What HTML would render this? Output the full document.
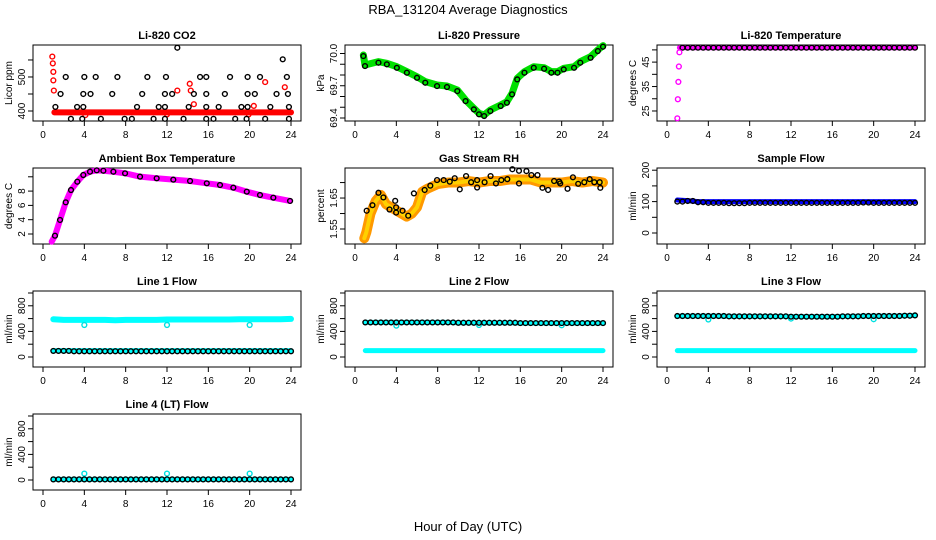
<!DOCTYPE html>
<html><head><meta charset="utf-8"><style>
body{margin:0;background:#fff;}
svg{display:block;font-family:"Liberation Sans",sans-serif;}
</style></head><body>
<svg id="chart" width="936" height="540" viewBox="0 0 936 540" xmlns="http://www.w3.org/2000/svg">
<rect width="936" height="540" fill="#fff"/>
<text x="468" y="14" text-anchor="middle" font-size="13">RBA_131204  Average Diagnostics</text>
<text x="468" y="531" text-anchor="middle" font-size="13">Hour of Day (UTC)</text>
</svg>
<script>
// ---------- data ----------
const xTicks = [0,4,8,12,16,20,24];
// CO2
const co2BandH = [1.1,24];
const co2BandV = [396,396];
const co2RedH = [0.9,0.95,1.0,1.0,1.05,13.0,14.2,14.3,14.6,21.5,23.4,20.4,4.1,12.0,19.9];
const co2RedV = [560,540,515,490,460,460,480,460,420,485,470,415,388,390,390];
const co2BlkH = [2.2,4.0,5.1,7.2,10.1,11.9,15.2,15.8,18.1,19.8,21.0,23.6,
 1.7,3.9,4.6,6.7,9.6,11.8,12.5,14.6,15.8,17.6,19.8,20.5,22.6,23.7,
 1.2,3.3,3.9,9.1,11.2,11.8,14.1,15.8,17.0,19.2,19.8,22.0,23.8,
 2.7,3.8,5.6,7.9,8.6,10.7,11.8,13.6,15.8,16.5,18.6,19.7,21.5,23.8,13.0,23.2];
const co2BlkV = [500,500,500,500,500,500,500,500,500,500,500,500,
 450,450,450,450,450,450,450,450,450,450,450,450,450,450,
 412,412,412,412,412,412,412,412,412,412,412,412,412,
 377,377,377,377,377,377,377,377,377,377,377,377,377,377,586,552];
// Pressure
const presH = [0.81,0.97,2.27,3.08,4.05,5.02,6.0,6.8,7.94,8.9,9.9,10.7,11.5,12.0,12.5,13.1,14.1,14.7,15.2,15.7,16.4,17.3,18.3,19.0,19.6,20.2,21.2,21.8,22.8,23.5,24.0];
const presV = [69.986,69.893,69.924,69.909,69.877,69.831,69.784,69.738,69.707,69.698,69.660,69.567,69.490,69.444,69.428,69.474,69.521,69.552,69.630,69.769,69.831,69.877,69.868,69.831,69.831,69.862,69.877,69.924,69.970,70.033,70.073];
// Li-820 temperature
const tempBandH = [1.2,24];
const tempBandV = [50.9,50.9];
const tempOutH = [1.0,1.05,1.1,1.15,1.2];
const tempOutV = [22,29.8,36.9,43.2,49.0];
// Ambient
const ambH = [0.84,1.16,1.65,2.2,2.71,3.32,3.9,4.55,5.2,5.84,6.81,7.94,9.39,11.0,12.61,14.23,15.85,17.13,18.42,19.72,21.0,22.29,23.91];
const ambV = [0.92,1.76,3.96,6.43,8.15,9.31,10.25,10.71,10.90,10.85,10.71,10.49,10.02,9.79,9.60,9.41,9.09,8.85,8.48,7.92,7.45,7.08,6.62];
// RH
const rhBandH = [0.9,1.1,1.5,2.0,2.5,3,3.5,4,4.5,5,5.5,6,6.5,7,8,9,10,11,12,13,14,15,16,17,18,19,20,21,22,23,24];
const rhBandV = [1.52,1.54,1.60,1.64,1.66,1.63,1.62,1.61,1.60,1.59,1.60,1.62,1.67,1.68,1.695,1.70,1.70,1.705,1.70,1.705,1.705,1.71,1.71,1.71,1.70,1.70,1.70,1.705,1.70,1.705,1.70];
const rhBlkH = [1.13,1.69,2.27,2.75,3.34,3.89,3.98,3.98,4.6,5.15,5.7,6.74,7.29,7.94,8.58,9.17,9.65,10.14,10.75,11.24,11.82,11.82,12.54,13.12,13.64,14.16,14.74,15.23,15.87,15.87,16.59,17.07,17.66,18.14,18.69,19.27,19.76,19.86,20.57,21.09,21.60,22.19,22.71,23.16,23.68,23.74];
const rhBlkV = [1.609,1.627,1.667,1.652,1.613,1.641,1.620,1.603,1.609,1.593,1.665,1.676,1.690,1.708,1.708,1.703,1.714,1.678,1.721,1.701,1.708,1.684,1.701,1.721,1.697,1.708,1.711,1.743,1.738,1.697,1.737,1.724,1.724,1.683,1.676,1.705,1.703,1.697,1.680,1.717,1.696,1.701,1.711,1.701,1.701,1.683];
// Flows (hourly values, hours 1..24)
const hours = [1,2,3,4,5,6,7,8,9,10,11,12,13,14,15,16,17,18,19,20,21,22,23,24];
const sampleBand = [105,103,100,100,100,100,100,100,100,100,100,100,100,100,100,100,100,100,100,100,100,100,100,100];
const sampleBlk  = [100,102,98,96,96,95,95,96,96,96,96,96,96,96,96,96,96,96,97,96,96,96,96,96];
const l1Hi  = [590,580,580,580,580,580,575,580,580,580,580,585,585,585,585,585,585,585,590,590,590,590,590,595];
const l1Lo  = [100,100,100,100,100,100,100,100,100,100,100,100,100,100,100,100,100,100,100,100,100,100,100,100];
const l1Blk = [95,95,90,90,90,90,90,90,90,90,90,90,90,90,90,90,90,90,90,90,90,90,90,90];
const l2Hi  = [540,540,540,540,540,540,540,540,540,535,535,535,535,535,535,530,530,530,530,530,530,530,530,530];
const l2Lo  = [100,100,100,100,100,100,100,100,100,100,100,100,100,100,100,100,100,100,100,100,100,100,100,100];
const l3Hi  = [640,640,640,640,640,635,635,635,635,635,635,630,630,630,630,630,635,635,640,640,640,640,645,650];
const l3Lo  = [100,100,100,100,100,100,100,100,100,100,100,100,100,100,100,100,100,100,100,100,100,100,100,100];
const l4Val = [10,10,10,10,10,10,10,10,10,10,10,10,10,10,10,10,10,10,10,10,10,10,10,10];
const dipH = [4,12,20];
const l1Dip = [500,500,500];
const l2Dip = [490,500,495];
const l3Dip = [585,600,590];
const l4Dip = [100,100,100];

// ---------- drawing ----------
const NS = "http://www.w3.org/2000/svg";
const svg = document.getElementById('chart');
function el(tag, attrs, parent){
  const e = document.createElementNS(NS, tag);
  for (const k in attrs) e.setAttribute(k, attrs[k]);
  (parent||svg).appendChild(e);
  return e;
}
function makePanel(col,row,title,ylab,ymin,ymax,yt,yl,name){
  const x0 = 33+312*col, y0 = 45+123*row, w = 268, h = 76;
  const g = el('g',{});
  
  
  const X = v => x0+10+v*(248/24);
  const Y = v => y0+h-(v-ymin)/(ymax-ymin)*h;
  const box = el('rect',{x:x0,y:y0,width:w,height:h,fill:'none',stroke:'#000','stroke-width':1},g);
  
  
  const t = el('text',{x:x0+w/2,y:y0-6,'text-anchor':'middle','font-size':11,'font-weight':'bold'},g);
  t.textContent = title;
  
  
  const yt2 = el('text',{transform:`translate(${x0-21},${y0+h/2}) rotate(-90)`,'text-anchor':'middle','font-size':10},g);
  yt2.textContent = ylab;
  
  
  xTicks.forEach(v=>{
    el('line',{x1:X(v),x2:X(v),y1:y0+h,y2:y0+h+5,stroke:'#000'},g);
    const tl = el('text',{x:X(v),y:y0+h+17,'text-anchor':'middle','font-size':10},g);
    tl.textContent = v;
    
    
  });
  yt.forEach((v,i)=>{
    el('line',{x1:x0,x2:x0-5,y1:Y(v),y2:Y(v),stroke:'#000'},g);
    if (yl[i]) {
      const tl = el('text',{transform:`translate(${x0-8},${Y(v)}) rotate(-90)`,'text-anchor':'middle','font-size':10},g);
      tl.textContent = yl[i];
      
      
    }
  });
  return {g,X,Y};
}
function band(p,hs,vs,color,width,name){
  const pts = hs.map((hh,i)=>p.X(hh)+','+p.Y(vs[i])).join(' ');
  const l = el('polyline',{points:pts,fill:'none',stroke:color,'stroke-width':width,'stroke-linejoin':'round','stroke-linecap':'round'},p.g);
  
  
}
function pts(p,hs,vs,color,name,fill){
  hs.forEach((hh,i)=>{
    const c = el('circle',{cx:p.X(hh),cy:p.Y(vs[i]),r:2.4,fill:fill||'none',stroke:color,'stroke-width':1.4},p.g);
    
    
  });
}
function ticksArr(a,b,s){const r=[];for(let v=a;v<=b+1e-9;v+=s)r.push(+v.toFixed(3));return r;}

// CO2
let p = makePanel(0,0,'Li-820 CO2','Licor ppm',370.6,594,[400,450,500,550],['400','','500',''],'co2');
band(p,co2BandH,co2BandV,'#ff0000',6,'co2-band');
pts(p,co2RedH,co2RedV,'#ff0000','co2-red-point');
pts(p,co2BlkH,co2BlkV,'#000','co2-point');
// Pressure
p = makePanel(1,0,'Li-820 Pressure','kPa',69.372,70.079,ticksArr(69.4,70.0,0.1),['69.4','','','69.7','','','70.0'],'pressure');
band(p,presH,presV,'#00e000',7,'pressure-band');
pts(p,presH,presV.map(v=>v-0.01),'#000','pressure-point');
// Temperature
p = makePanel(2,0,'Li-820 Temperature','degrees C',20.9,52,[25,30,35,40,45,50],['25','','35','','45',''],'li820-temp');
band(p,tempBandH,tempBandV,'#ff00ff',5,'temp-band');
pts(p,hours.slice(0).concat(hours.map(v=>v-0.5)).filter(v=>v>=1.2),hours.concat(hours).map(()=>50.9),'#000','temp-point');
pts(p,tempOutH,tempOutV,'#ff00ff','temp-outlier');
// Ambient
p = makePanel(0,1,'Ambient Box Temperature','degrees C',0.6,11.23,[2,4,6,8,10],['2','4','6','8',''],'ambient');
band(p,ambH,ambV,'#ff00ff',6,'ambient-band');
pts(p,ambH.slice(1),ambV.slice(1),'#000','ambient-point');
// RH
p = makePanel(1,1,'Gas Stream RH','percent',1.5016,1.747,[1.55,1.60,1.65,1.70],['1.55','','1.65',''],'rh');
band(p,rhBandH,rhBandV,'#ff9900',10,'rh-band');
band(p,rhBandH,rhBandV,'#ffd000',4,'rh-band-inner');
pts(p,rhBlkH,rhBlkV,'#000','rh-point');
// Sample flow
p = makePanel(2,1,'Sample Flow','ml/min',-35,207,[0,50,100,150,200],['0','','100','','200'],'sample-flow');
band(p,hours,sampleBand,'#0000ff',5,'sample-band');
pts(p,hours,sampleBlk,'#000','sample-point');
pts(p,hours.map(v=>v+0.5).slice(0,23),sampleBlk.slice(0,23),'#000','sample-point');
const flowTicks=[0,200,400,600,800,1000], flowLabels=['0','','400','','800',''];
// Line 1
p = makePanel(0,2,'Line 1 Flow','ml/min',-156,1031,flowTicks,flowLabels,'line1');
band(p,hours,l1Hi,'#00ffff',6,'line1-hi');
band(p,hours,l1Lo,'#00ffff',5,'line1-lo');
pts(p,dipH,l1Dip,'#00e0e0','line1-dip');
pts(p,hours.concat(hours.map(v=>v+0.5).slice(0,23)),l1Blk.concat(l1Blk.slice(0,23)),'#000','line1-point');
// Line 2
p = makePanel(1,2,'Line 2 Flow','ml/min',-156,1031,flowTicks,flowLabels,'line2');
band(p,hours,l2Hi,'#00ffff',5,'line2-hi');
band(p,hours,l2Lo,'#00ffff',5,'line2-lo');
pts(p,dipH,l2Dip,'#00e0e0','line2-dip');
pts(p,hours.concat(hours.map(v=>v+0.5).slice(0,23)),l2Hi.concat(l2Hi.slice(0,23)),'#000','line2-point');
// Line 3
p = makePanel(2,2,'Line 3 Flow','ml/min',-156,1031,flowTicks,flowLabels,'line3');
band(p,hours,l3Hi,'#00ffff',5,'line3-hi');
band(p,hours,l3Lo,'#00ffff',5,'line3-lo');
pts(p,dipH,l3Dip,'#00e0e0','line3-dip');
pts(p,hours.concat(hours.map(v=>v+0.5).slice(0,23)),l3Hi.concat(l3Hi.slice(0,23)),'#000','line3-point');
// Line 4
p = makePanel(0,3,'Line 4 (LT) Flow','ml/min',-156,1031,flowTicks,flowLabels,'line4');
band(p,hours,l4Val,'#00ffff',5,'line4-band');
pts(p,dipH,l4Dip,'#00e0e0','line4-dip');
pts(p,hours.concat(hours.map(v=>v+0.5).slice(0,23)),l4Val.concat(l4Val.slice(0,23)),'#000','line4-point');
</script>
</body></html>
